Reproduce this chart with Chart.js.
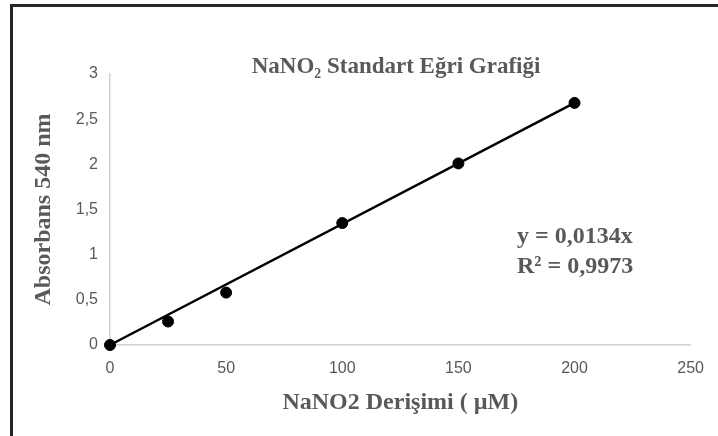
<!DOCTYPE html>
<html>
<head>
<meta charset="utf-8">
<script src="https://cdn.jsdelivr.net/npm/chart.js@4.4.0/dist/chart.umd.min.js"></script>
<style>
  html, body { margin: 0; padding: 0; background: #fff; }
  #wrap { position: relative; width: 718px; height: 436px; overflow: hidden; }
  #frame { position: absolute; left: 10px; top: 4px; width: 800px; height: 600px;
           border-top: 3px solid #262626; border-left: 3px solid #262626; }
  canvas { position: absolute; left: 0; top: 0; }
</style>
</head>
<body>
<div id="wrap">
  <div id="frame"></div>
  <canvas id="myChart" width="718" height="436"></canvas>
</div>
<script>
// measured points
var concentrations = [0, 25, 50, 100, 150, 200];
var absorbances = [0, 0.26, 0.58, 1.35, 2.01, 2.68];

// trendline ends as drawn
var trendX = [0, 200];
var trendY = [0, 2.68];

var xTicks = [0, 50, 100, 150, 200, 250];
var yTicks = [0, 0.5, 1, 1.5, 2, 2.5, 3];

var chartTitle = 'NaNO\u2082 Standart Eğri Grafiği';
var xTitle = 'NaNO2 Derişimi ( µM)';
var yTitle = 'Absorbans 540 nm';
var equationLines = ['y = 0,0134x', 'R² = 0,9973'];

var grey = '#595959';
var serif = "'Liberation Serif', 'Times New Roman', serif";
var sans = "'Liberation Sans', Arial, sans-serif";

var pointData = concentrations.map(function(x, i){ return {x: x, y: absorbances[i]}; });
var trendData = trendX.map(function(x, i){ return {x: x, y: trendY[i]}; });

// title and equation text, drawn on top
var textPlugin = {
  id: 'textLabels',
  afterDraw: function(chart) {
    var ctx = chart.ctx;
    ctx.save();
    ctx.fillStyle = grey;
    ctx.textBaseline = 'middle';
    ctx.font = 'bold 23px ' + serif;
    ctx.textAlign = 'center';
    ctx.fillText(chartTitle, 396, 67);
    ctx.font = 'bold 24px ' + serif;
    ctx.textAlign = 'left';
    ctx.fillText(equationLines[0], 517, 237);
    ctx.fillText(equationLines[1], 517, 267);
    ctx.restore();
  }
};

var ctx = document.getElementById('myChart').getContext('2d');
var myChart = new Chart(ctx, {
  type: 'scatter',
  data: {
    datasets: [{
      type: 'line',
      data: trendData,
      borderColor: '#000',
      borderWidth: 2.5,
      pointRadius: 0,
      fill: false,
      clip: false
    }, {
      data: pointData,
      backgroundColor: '#000',
      borderColor: '#000',
      pointRadius: 5.5,
      pointHoverRadius: 5.5,
      clip: false
    }]
  },
  plugins: [textPlugin],
  options: {
    responsive: false,
    animation: false,
    layout: { padding: { left: 14, right: 25, top: 74, bottom: 0 } },
    plugins: {
      legend: { display: false },
      tooltip: { enabled: false },
      title: { display: false }
    },
    scales: {
      x: {
        type: 'linear',
        min: 0,
        max: 250,
        afterFit: function(scale) { scale.height = 91; },
        afterBuildTicks: function(scale) {
          scale.ticks = xTicks.map(function(v){ return {value: v}; });
        },
        grid: { color: 'transparent', drawTicks: false },
        border: { display: true, color: '#d0d0d0', width: 1.5 },
        ticks: {
          color: grey,
          padding: 14,
          font: { family: sans, size: 16 },
          maxRotation: 0
        },
        title: {
          display: true,
          text: xTitle,
          color: grey,
          font: { family: serif, size: 24, weight: 'bold' },
          padding: { top: 19, bottom: 19 }
        }
      },
      y: {
        min: 0,
        max: 3,
        afterFit: function(scale) { scale.width = 96; },
        afterBuildTicks: function(scale) {
          scale.ticks = yTicks.map(function(v){ return {value: v}; });
        },
        grid: { color: 'transparent', drawTicks: false },
        border: { display: true, color: '#d0d0d0', width: 1.5 },
        ticks: {
          color: grey,
          padding: 12,
          font: { family: sans, size: 16 },
          callback: function(v) { return String(v).replace('.', ','); }
        },
        title: {
          display: true,
          text: yTitle,
          color: grey,
          font: { family: serif, size: 24, weight: 'bold' },
          padding: { top: 15, bottom: 15 }
        }
      }
    }
  }
});
</script>
</body>
</html>
